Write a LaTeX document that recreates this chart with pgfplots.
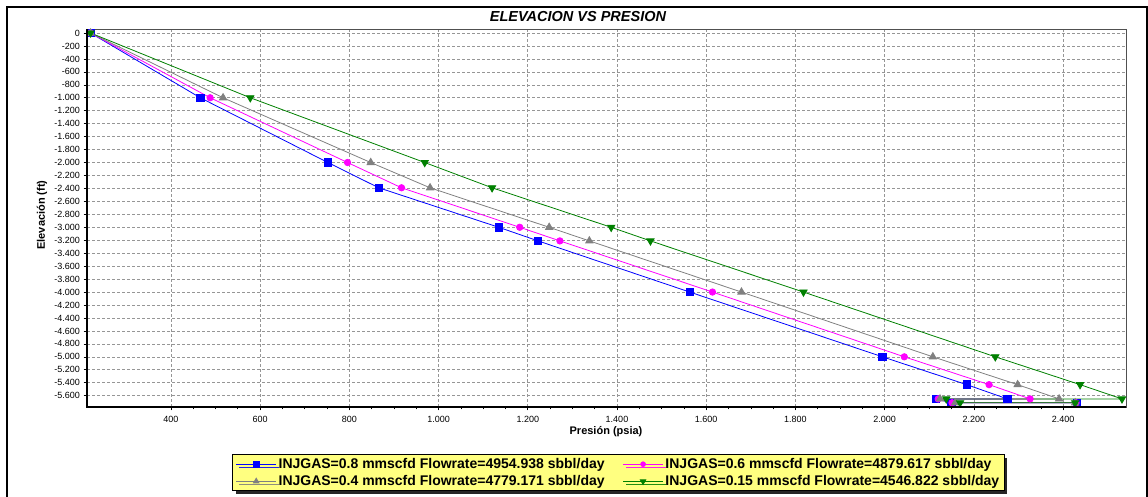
\documentclass[border=0pt]{standalone}
\usepackage{fontspec}
\setmainfont{Liberation Sans}
\usepackage{pgfplots}
\pgfplotsset{compat=1.18}
\usetikzlibrary{shadows}

\definecolor{legyellow}{RGB}{255,255,128}
\definecolor{gridgray}{RGB}{150,150,150}
\definecolor{sblue}{RGB}{0,0,255}
\definecolor{spink}{RGB}{255,0,255}
\definecolor{sgray}{RGB}{128,128,128}
\definecolor{sgreen}{RGB}{0,128,0}
\definecolor{framegray}{RGB}{80,80,80}

\pgfplotstableread{
p e
220 0
466 -1000
752 -2000
866 -2390
1135 -3000
1223 -3210
1563 -4000
1995 -5000
2184 -5430
2275 -5650
2115 -5650
2149 -5710
2431 -5710
}\blue

\pgfplotstableread{
p e
220 0
488 -1000
796 -2000
917 -2390
1182 -3000
1272 -3210
1614 -4000
2044 -5000
2234 -5430
2326 -5650
2120 -5650
2151 -5710
2429 -5710
}\pink

\pgfplotstableread{
p e
220 0
517 -1000
848 -2000
981 -2390
1248 -3000
1338 -3210
1679 -4000
2108 -5000
2298 -5430
2391 -5650
2124 -5650
2158 -5710
2427 -5710
}\grayd

\pgfplotstableread{
p e
220 0
578 -1000
969 -2000
1120 -2390
1387 -3000
1475 -3210
1818 -4000
2248 -5000
2438 -5430
2532 -5650
2138 -5650
2169 -5710
2427 -5710
}\green

\begin{document}
\begin{tikzpicture}
\useasboundingbox (0,0) rectangle (1148pt,497pt);
\draw[line width=2.5pt] (7pt,-20pt) -- (7pt,490pt) -- (1147pt,490pt) -- (1147pt,-20pt);
\begin{axis}[
  scale only axis, width=1039pt, height=378pt,
  at={(87pt,90pt)}, anchor=south west,
  xmin=212, xmax=2541, ymin=-5775, ymax=62,
  xtick={400,600,...,2400}, minor x tick num=3,
  ytick={-5600,-5400,...,0},
  xtick pos=left, ytick pos=left,
  tick align=outside,
  major tick length=3.5pt, minor tick length=2.5pt,
  tick style={black, line width=0.6pt},
  grid=major,
  grid style={gridgray, dash pattern=on 3pt off 2pt, line width=0.6pt},
  axis line style={framegray, line width=0.8pt},
  /pgf/number format/.cd, 1000 sep={.}, assume math mode=true, /pgfplots/.cd,
  ticklabel style={font=\fontsize{9}{10}\selectfont},
  xticklabel style={yshift=-2pt},
  legend columns=2,
  legend cell align=left,
  legend style={at={(0.5116,-0.174)}, anchor=center, fill=legyellow, draw=black,
    line width=0.8pt,
    font=\bfseries\fontsize{14}{16}\selectfont,
    inner xsep=3pt, inner ysep=1.5pt, row sep=1.5pt,
    drop shadow={shadow xshift=3pt, shadow yshift=-3pt, fill=black, opacity=0.85},
    /tikz/every even column/.append style={column sep=16pt}},
  legend image code/.code={\draw[mark repeat=2,mark phase=2,#1,line width=0.8pt,every mark/.append style={scale=0.75}] plot coordinates {(0pt,0pt)(20pt,0pt)(40pt,0pt)};},
]
\addplot[sblue, line width=0.8pt, mark=square*, mark size=3.8pt, mark options={fill=sblue, draw=sblue}] table[x=p,y=e] {\blue};
\addlegendentry{INJGAS=0.8 mmscfd Flowrate=4954.938 sbbl/day}
\addplot[spink, line width=0.8pt, mark=*, mark size=3.2pt, mark options={fill=spink, draw=spink}] table[x=p,y=e] {\pink};
\addlegendentry{INJGAS=0.6 mmscfd Flowrate=4879.617 sbbl/day}
\addplot[sgray, line width=0.8pt, mark=triangle*, mark size=4.2pt, mark options={fill=sgray, draw=sgray}] table[x=p,y=e] {\grayd};
\addlegendentry{INJGAS=0.4 mmscfd Flowrate=4779.171 sbbl/day}
\addplot[sgreen, line width=0.8pt, mark=triangle*, mark size=4.2pt, mark options={fill=sgreen, draw=sgreen, rotate=180}] table[x=p,y=e] {\green};
\addlegendentry{INJGAS=0.15 mmscfd Flowrate=4546.822 sbbl/day}
\end{axis}
\draw[line width=2pt, black] (87pt,468pt) -- (87pt,90pt) -- (1126pt,90pt);
\node[font=\bfseries\itshape\fontsize{14.5}{16}\selectfont] at (578pt,480pt) {ELEVACION VS PRESION};
\node[font=\bfseries\fontsize{11}{13}\selectfont] at (606pt,65pt) {Presión (psia)};
\node[font=\bfseries\fontsize{11}{13}\selectfont, rotate=90] at (42pt,282pt) {Elevación (ft)};
\end{tikzpicture}
\end{document}
